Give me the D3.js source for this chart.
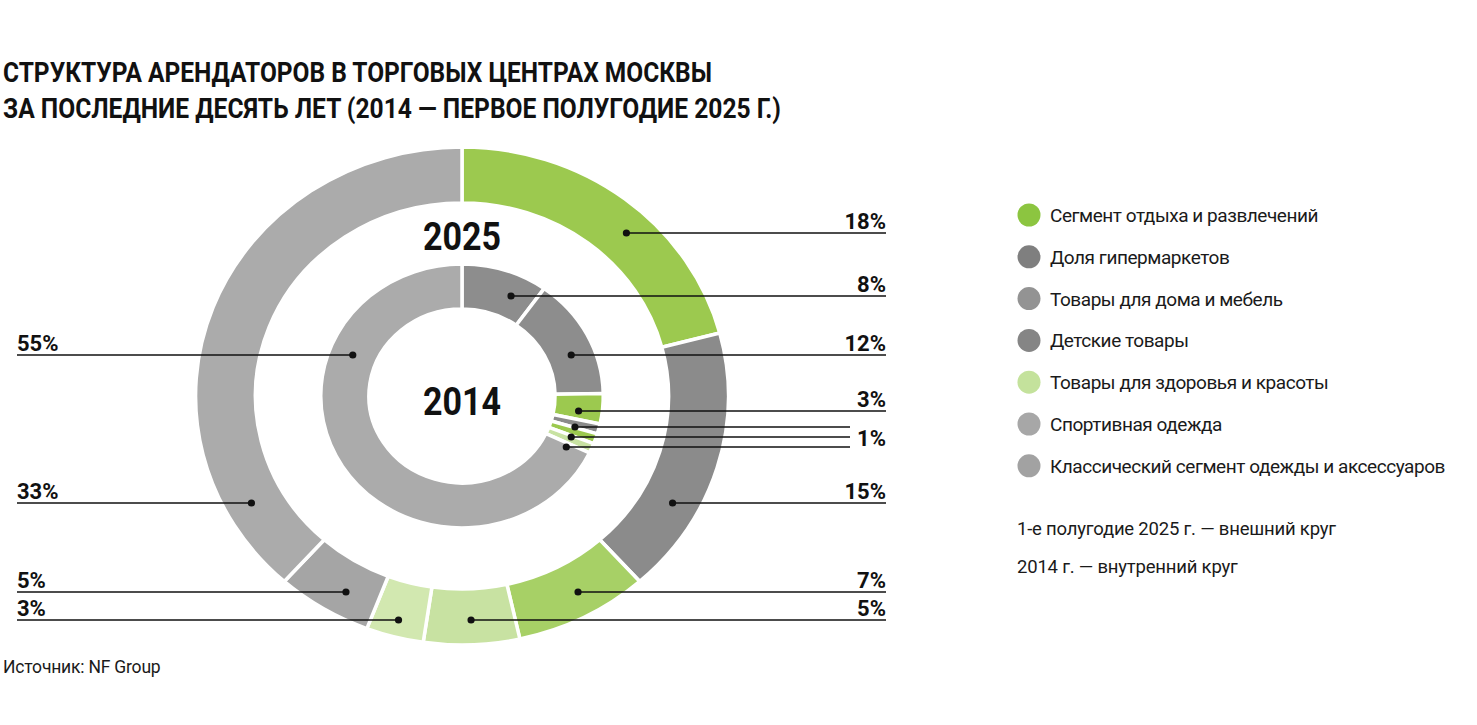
<!DOCTYPE html>
<html lang="ru">
<head>
<meta charset="utf-8">
<title>Структура арендаторов</title>
<script src="https://cdn.jsdelivr.net/npm/d3@7"></script>
<style>
  html, body { margin: 0; padding: 0; background: #fff; }
  svg { display: block; font-family: Roboto, "Noto Sans", sans-serif; }
</style>
</head>
<body>
<div id="chart"></div>
<script>
///// 1.  DATOS
const CATEGORIES = [
  'Сегмент отдыха и развлечений',
  'Доля гипермаркетов',
  'Товары для дома и мебель',
  'Детские товары',
  'Товары для здоровья и красоты',
  'Спортивная одежда',
  'Классический сегмент одежды и аксессуаров'
];
const CATEGORY_COLORS = ['#8cc540', '#7f7f7f', '#939393', '#858585', '#c4e29c', '#a7a7a7', '#a2a2a2'];

// внешний круг (1-е полугодие 2025), по часовой стрелке от 12 часов
const OUTER_VALUES = [18, 15, 7, 5, 3, 5, 33];
const OUTER_COLORS = ['#9cc94f', '#8b8b8b', '#a7d066', '#c8e2a2', '#d2e8b0', '#a5a5a5', '#ababab'];

// внутренний круг (2014)
const INNER_VALUES = [8, 12, 3, 1, 1, 1, 55];
const INNER_COLORS = ['#8d8d8d', '#8d8d8d', '#9cc94f', '#8b8b8b', '#9cc94f', '#c8e2a2', '#ababab'];

const TITLE = ['СТРУКТУРА АРЕНДАТОРОВ В ТОРГОВЫХ ЦЕНТРАХ МОСКВЫ',
               'ЗА ПОСЛЕДНИЕ ДЕСЯТЬ ЛЕТ (2014 — ПЕРВОЕ ПОЛУГОДИЕ 2025 Г.)'];
const NOTES  = ['1-е полугодие 2025 г. — внешний круг', '2014 г. — внутренний круг'];
const SOURCE = 'Источник: NF Group';

///// 2.  LAYOUT (filas de las etiquetas, lado)
const OUTER_ROWS  = [233, 503, 592, 620, 620, 592, 503];
const OUTER_SIDES = ['R', 'R', 'R', 'R', 'L', 'L', 'L'];
const INNER_ROWS  = [296, 355, 411, 427, 437, 447, 355];
const INNER_SIDES = ['R', 'R', 'R', 'R', 'R', 'R', 'L'];
const INNER_GROUP = [false, false, false, true, true, true, false];   // три по 1%

const W = 1477, H = 725;
const CX = 462, CY = 396, SX = 1.07;   // картинка чуть растянута по горизонтали
const R_OUT = [193, 249], R_IN = [87, 132];
const X_LEFT = 17, X_RIGHT = 886, X_GROUP = 850;

///// 3.  SVG
const svg = d3.select('#chart').append('svg')
              .attr('width', W).attr('height', H)
              .attr('viewBox', [0, 0, W, H]);

svg.append('g')
   .selectAll('text')
   .data(TITLE)
   .join('text')
     .attr('x', 3)
     .attr('y', (d, i) => 82 + i * 36)
     .attr('font-size', 27)
     .attr('font-weight', 700)
     .attr('fill', '#111')
     .attr('textLength', (d, i) => i ? 778 : 709)
     .attr('lengthAdjust', 'spacingAndGlyphs')
     .text(d => d);

///// 4.  DONUTS
const pie = d3.pie().sort(null).value(d => d);
const donut = svg.append('g')
                 .attr('transform', `translate(${CX},${CY}) scale(${SX},1)`);

function drawRing (values, colors, radii) {
  const arc = d3.arc().innerRadius(radii[0]).outerRadius(radii[1]);
  const arcs = pie(values);
  donut.append('g')
       .selectAll('path')
       .data(arcs)
       .join('path')
         .attr('d', arc)
         .attr('fill', (d, i) => colors[i])
         .attr('stroke', '#fff')
         .attr('stroke-width', 3.5)
         .attr('stroke-linejoin', 'round')
         .attr('vector-effect', 'non-scaling-stroke');
  return { arcs, arc };
}

const outer = drawRing(OUTER_VALUES, OUTER_COLORS, R_OUT);
const inner = drawRing(INNER_VALUES, INNER_COLORS, R_IN);

// подписи годов
[['2025', 250], ['2014', 415]].forEach(([t, y]) => {
  svg.append('text')
     .attr('x', CX).attr('y', y)
     .attr('text-anchor', 'middle')
     .attr('font-size', 38)
     .attr('font-weight', 700)
     .attr('fill', '#111')
     .attr('textLength', 78)
     .attr('lengthAdjust', 'spacingAndGlyphs')
     .text(t);
});

///// 5.  ВЫНОСКИ
function dotX (d, row, side, rDot) {
  const dy = row - CY;
  if (Math.abs(dy) < rDot - 4) {
    const dx = Math.sqrt(rDot * rDot - dy * dy);
    return CX + (side === 'R' ? dx : -dx) * SX;
  }
  // низ кольца: середина хорды сегмента на этой высоте
  const xa = -dy * Math.tan(d.startAngle), xb = -dy * Math.tan(d.endAngle);
  return CX + (xa + xb) / 2 * SX;
}

function drawLeaders (ring, rows, sides, rDot, group) {
  const g = svg.append('g');
  ring.arcs.forEach((d, i) => {
    const y = rows[i];
    const side = sides[i];
    const x0 = dotX(d, y, side, rDot);
    const inGroup = group && group[i];
    const x1 = side === 'R' ? (inGroup ? X_GROUP : X_RIGHT) : X_LEFT;

    g.append('line')
     .attr('x1', x0).attr('x2', x1)
     .attr('y1', y).attr('y2', y)
     .attr('stroke', '#111')
     .attr('stroke-width', 1.6);

    g.append('circle')
     .attr('cx', x0).attr('cy', y).attr('r', 3.6)
     .attr('fill', '#111');

    // у группы по 1% одна подпись на последней линии
    if (inGroup && group[i + 1]) return;

    g.append('text')
     .attr('x', side === 'R' ? X_RIGHT : X_LEFT)
     .attr('y', inGroup ? y - 1 : y - 4)
     .attr('text-anchor', side === 'R' ? 'end' : 'start')
     .attr('font-size', 22)
     .attr('font-weight', 700)
     .attr('fill', '#111')
     .text(`${d.data}%`);
  });
}

drawLeaders(outer, OUTER_ROWS, OUTER_SIDES, 224);
drawLeaders(inner, INNER_ROWS, INNER_SIDES, 110, INNER_GROUP);

///// 6.  ЛЕГЕНДА
const legend = svg.append('g')
                  .attr('transform', 'translate(1029,215)');

const item = legend.selectAll('g')
                   .data(CATEGORIES)
                   .join('g')
                     .attr('transform', (d, i) => `translate(0,${i * 41.8})`);

item.append('circle')
    .attr('r', 11.5)
    .attr('fill', (d, i) => CATEGORY_COLORS[i]);

item.append('text')
    .attr('x', 21)
    .attr('y', 7)
    .attr('font-size', 19)
    .attr('letter-spacing', -0.45)
    .attr('fill', '#1a1a1a')
    .text(d => d);

svg.append('g')
   .selectAll('text')
   .data(NOTES)
   .join('text')
     .attr('x', 1017)
     .attr('y', (d, i) => 535 + i * 38)
     .attr('font-size', 18.5)
     .attr('letter-spacing', -0.2)
     .attr('fill', '#1a1a1a')
     .text(d => d);

svg.append('text')
   .attr('x', 3)
   .attr('y', 673)
   .attr('font-size', 17.5)
   .attr('letter-spacing', -0.2)
   .attr('fill', '#1a1a1a')
   .text(SOURCE);
</script>
</body>
</html>
